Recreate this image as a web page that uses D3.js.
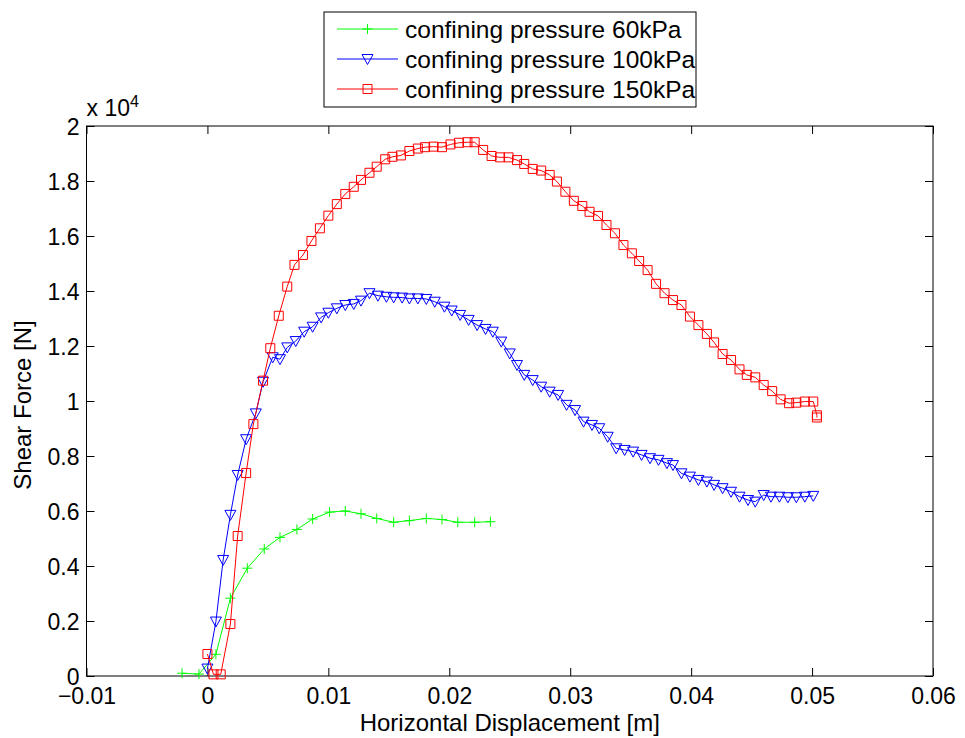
<!DOCTYPE html>
<html>
<head>
<meta charset="utf-8">
<script src="https://cdn.jsdelivr.net/npm/d3@7"></script>
<style>
  html, body { margin: 0; padding: 0; background: #fff; }
  svg { display: block; }
  text { font-family: "Liberation Sans", Arial, Helvetica, sans-serif; fill: #000; }
</style>
</head>
<body>
<svg id="chart" width="965" height="738"></svg>
<script>
// ---- data ----
const x60 = [-0.0021, -0.0007, 0.0007, 0.0019, 0.0033, 0.0047, 0.0060, 0.0074, 0.0087, 0.0101, 0.0114, 0.0127, 0.0140, 0.0154, 0.0167, 0.0181, 0.0194, 0.0207, 0.0221, 0.0234];
const y60 = [100, 70, 790, 2830, 3920, 4620, 5040, 5330, 5710, 5960, 6000, 5900, 5730, 5590, 5650, 5730, 5690, 5590, 5590, 5610];

const x100 = [0.0000, 0.0007, 0.0013, 0.0019, 0.0025, 0.0032, 0.0040, 0.0046, 0.0054, 0.0060, 0.0066, 0.0073, 0.0080, 0.0087, 0.0094, 0.0100, 0.0107, 0.0114, 0.0121, 0.0127, 0.0134, 0.0141, 0.0148, 0.0154, 0.0161, 0.0167, 0.0174, 0.0181, 0.0188, 0.0196, 0.0202, 0.0209, 0.0216, 0.0223, 0.0230, 0.0236, 0.0243, 0.0250, 0.0256, 0.0262, 0.0269, 0.0276, 0.0283, 0.0290, 0.0297, 0.0304, 0.0311, 0.0318, 0.0324, 0.0331, 0.0338, 0.0345, 0.0352, 0.0359, 0.0366, 0.0373, 0.0380, 0.0385, 0.0392, 0.0399, 0.0406, 0.0413, 0.0419, 0.0426, 0.0433, 0.0440, 0.0447, 0.0453, 0.0460, 0.0466, 0.0473, 0.0480, 0.0487, 0.0494, 0.0501];
const y100 = [270, 1980, 4220, 5860, 7310, 8610, 9550, 10700, 11590, 11520, 11950, 12180, 12520, 12700, 13040, 13210, 13370, 13490, 13530, 13650, 13920, 13830, 13790, 13770, 13760, 13730, 13730, 13710, 13610, 13430, 13290, 13130, 12950, 12760, 12620, 12520, 12160, 11730, 11310, 10950, 10760, 10520, 10340, 10220, 9860, 9670, 9250, 9130, 9010, 8700, 8280, 8220, 8160, 8040, 7920, 7860, 7740, 7670, 7370, 7250, 7130, 7070, 6950, 6830, 6700, 6520, 6400, 6340, 6580, 6520, 6520, 6500, 6500, 6520, 6550];

const x150 = [0.0000, 0.0005, 0.0011, 0.0019, 0.0025, 0.0032, 0.0038, 0.0046, 0.0052, 0.0059, 0.0066, 0.0072, 0.0079, 0.0086, 0.0093, 0.0100, 0.0107, 0.0114, 0.0121, 0.0127, 0.0134, 0.0140, 0.0147, 0.0153, 0.0160, 0.0167, 0.0174, 0.0180, 0.0187, 0.0194, 0.0201, 0.0208, 0.0215, 0.0221, 0.0228, 0.0235, 0.0242, 0.0249, 0.0256, 0.0262, 0.0269, 0.0276, 0.0283, 0.0289, 0.0296, 0.0303, 0.0310, 0.0316, 0.0323, 0.0330, 0.0337, 0.0344, 0.0351, 0.0357, 0.0364, 0.0371, 0.0378, 0.0385, 0.0392, 0.0399, 0.0406, 0.0413, 0.0419, 0.0426, 0.0433, 0.0440, 0.0446, 0.0453, 0.0460, 0.0467, 0.0474, 0.0481, 0.0487, 0.0494, 0.0501, 0.0504, 0.0504];
const y150 = [800, 60, 60, 1890, 5090, 7380, 9160, 10740, 11920, 13100, 14160, 14950, 15310, 15820, 16280, 16740, 17160, 17530, 17790, 18040, 18300, 18520, 18790, 18880, 18930, 19090, 19180, 19230, 19250, 19230, 19330, 19390, 19410, 19410, 19130, 18910, 18860, 18860, 18760, 18620, 18440, 18380, 18220, 17980, 17610, 17280, 17090, 16880, 16730, 16400, 16100, 15670, 15370, 15090, 14760, 14260, 13920, 13670, 13490, 13070, 12760, 12440, 12130, 11710, 11490, 11150, 10950, 10860, 10580, 10360, 10060, 9920, 9940, 9980, 9980, 9480, 9400];

const seriesNames = ["confining pressure 60kPa", "confining pressure 100kPa", "confining pressure 150kPa"];
const seriesColors = ["#00ff00", "#0000ff", "#ff0000"];
const seriesMarkers = ["plus", "triangle", "square"];

const xTicks = [-0.01, 0, 0.01, 0.02, 0.03, 0.04, 0.05, 0.06];
const xTickLabels = ["\u22120.01", "0", "0.01", "0.02", "0.03", "0.04", "0.05", "0.06"];
const yTicks = [0, 2000, 4000, 6000, 8000, 10000, 12000, 14000, 16000, 18000, 20000];
const yTickLabels = ["0", "0.2", "0.4", "0.6", "0.8", "1", "1.2", "1.4", "1.6", "1.8", "2"];

// ---- layout ----
const L = 86.5, R = 933, T = 126, B = 676;
const svg = d3.select("#chart");
svg.append("rect").attr("width", 965).attr("height", 738).attr("fill", "#fff");

const x = d3.scaleLinear().domain([-0.01, 0.06]).range([L, R]);
const y = d3.scaleLinear().domain([0, 20000]).range([B, T]);

// axes (ticks inside, mirrored)
const tickLen = 8;
const xAxisB = d3.axisBottom(x).tickValues(xTicks).tickSizeInner(-tickLen).tickSizeOuter(0).tickPadding(12)
  .tickFormat((d, i) => xTickLabels[i]);
const yAxisL = d3.axisLeft(y).tickValues(yTicks).tickSizeInner(-tickLen).tickSizeOuter(0).tickPadding(7)
  .tickFormat((d, i) => yTickLabels[i]);
const xAxisT = d3.axisTop(x).tickValues(xTicks).tickSizeInner(-tickLen).tickSizeOuter(0).tickFormat("");
const yAxisR = d3.axisRight(y).tickValues(yTicks).tickSizeInner(-tickLen).tickSizeOuter(0).tickFormat("");

function styleAxis(g) {
  g.select(".domain").remove();
  g.selectAll(".tick line").attr("stroke", "#000").attr("stroke-width", 1);
  g.selectAll(".tick text").attr("font-size", 23).attr("fill", "#000")
    .style("font-family", '"Liberation Sans", Arial, sans-serif');
}
svg.append("g").attr("transform", `translate(0,${B})`).call(xAxisB).call(styleAxis)
  .selectAll(".tick text").attr("dy", "0.71em");
svg.append("g").attr("transform", `translate(${L},0)`).call(yAxisL).call(styleAxis)
  .selectAll(".tick text").attr("dy", "0.36em");
svg.append("g").attr("transform", `translate(0,${T})`).call(xAxisT).call(styleAxis);
svg.append("g").attr("transform", `translate(${R},0)`).call(yAxisR).call(styleAxis);

// box
svg.append("rect").attr("x", L).attr("y", T).attr("width", R - L).attr("height", B - T)
  .attr("fill", "none").attr("stroke", "#000").attr("stroke-width", 1);

// exponent label
const expo = svg.append("text").attr("x", L).attr("y", 116).attr("font-size", 23);
expo.append("tspan").text("x 10");
expo.append("tspan").attr("font-size", 16).attr("dy", -9).text("4");

// axis labels
svg.append("text").attr("x", (L + R) / 2).attr("y", 731).attr("text-anchor", "middle")
  .attr("font-size", 24).text("Horizontal Displacement [m]");
svg.append("text").attr("transform", `translate(31,${(T + B) / 2 + 4}) rotate(-90)`)
  .attr("text-anchor", "middle").attr("font-size", 24).text("Shear Force [N]");

// markers
function markerPath(kind) {
  if (kind === "plus") return "M-5,0H5M0,-5V5";
  if (kind === "triangle") return "M-5.5,-4.5L5.5,-4.5L0,5.5Z";
  return "M-4.5,-4.5H4.5V4.5H-4.5Z";
}

const allX = [x60, x100, x150];
const allY = [y60, y100, y150];
const line = d3.line().x(d => x(d[0])).y(d => y(d[1]));

const plot = svg.append("g");
allX.forEach((xs, si) => {
  const pts = xs.map((v, i) => [v, allY[si][i]]);
  plot.append("path").attr("d", line(pts)).attr("fill", "none")
    .attr("stroke", seriesColors[si]).attr("stroke-width", 1);
  plot.selectAll(null).data(pts).enter().append("path")
    .attr("transform", d => `translate(${x(d[0])},${y(d[1])})`)
    .attr("d", markerPath(seriesMarkers[si]))
    .attr("fill", "none").attr("stroke", seriesColors[si]).attr("stroke-width", 1);
});

// legend
const lg = svg.append("g");
lg.append("rect").attr("x", 324).attr("y", 12).attr("width", 372).attr("height", 95)
  .attr("fill", "#fff").attr("stroke", "#000").attr("stroke-width", 1);
seriesNames.forEach((name, i) => {
  const cy = 29 + i * 30;
  lg.append("line").attr("x1", 337).attr("x2", 398).attr("y1", cy).attr("y2", cy)
    .attr("stroke", seriesColors[i]).attr("stroke-width", 1);
  lg.append("path").attr("transform", `translate(367.5,${cy})`).attr("d", markerPath(seriesMarkers[i]))
    .attr("fill", "none").attr("stroke", seriesColors[i]).attr("stroke-width", 1);
  lg.append("text").attr("x", 405).attr("y", cy + 8.5).attr("font-size", 24.5).text(name);
});
</script>
</body>
</html>
